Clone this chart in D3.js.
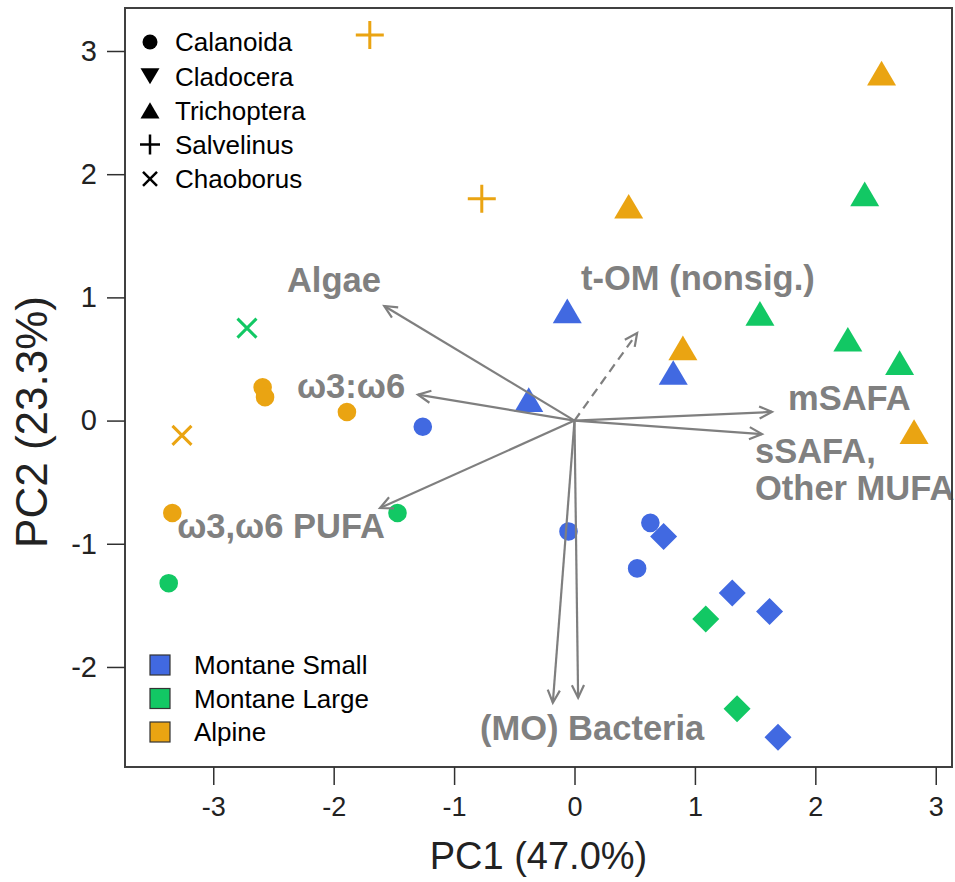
<!DOCTYPE html>
<html>
<head>
<meta charset="utf-8">
<script src="https://cdn.jsdelivr.net/npm/d3@7"></script>
<style>
  html, body { margin: 0; padding: 0; background: #fff; }
  svg { display: block; font-family: "Liberation Sans", Arial, sans-serif; }
</style>
</head>
<body>
<svg id="chart" width="955" height="882"></svg>
<script>
// ---- data -------------------------------------------------------------
const groups = ["Montane Small", "Montane Large", "Alpine"];
const groupColors = ["#4169e1", "#12c864", "#eaa412"];
const taxa = ["Calanoida", "Cladocera", "Trichoptera", "Salvelinus", "Chaoborus"];

// PCA scores: PC1, PC2, lake group, taxon
const pc1 = [
  // Alpine
  -1.70, -0.77, 2.55, 0.45, 0.90, 2.82, -2.59, -2.57, -1.89, -3.34, -3.26,
  // Montane Large
  -2.72, -1.47, -3.37, 2.41, 1.54, 2.27, 2.70, 1.09, 1.35,
  // Montane Small
  -0.06, 0.82, -0.38, -1.26, -0.05, 0.63, 0.74, 0.52, 1.31, 1.62, 1.69
];
const pc2 = [
  3.13, 1.80, 2.82, 1.74, 0.59, -0.09, 0.27, 0.19, 0.07, -0.75, -0.12,
  0.75, -0.75, -1.32, 1.84, 0.87, 0.66, 0.47, -1.61, -2.34,
  0.89, 0.39, 0.17, -0.05, -0.90, -0.83, -0.94, -1.20, -1.40, -1.55, -2.57
];
const pointGroup = [
  "Alpine", "Alpine", "Alpine", "Alpine", "Alpine", "Alpine", "Alpine", "Alpine", "Alpine", "Alpine", "Alpine",
  "Montane Large", "Montane Large", "Montane Large", "Montane Large", "Montane Large", "Montane Large", "Montane Large", "Montane Large", "Montane Large",
  "Montane Small", "Montane Small", "Montane Small", "Montane Small", "Montane Small", "Montane Small", "Montane Small", "Montane Small", "Montane Small", "Montane Small", "Montane Small"
];
const pointTaxon = [
  "Salvelinus", "Salvelinus", "Trichoptera", "Trichoptera", "Trichoptera", "Trichoptera", "Calanoida", "Calanoida", "Calanoida", "Calanoida", "Chaoborus",
  "Chaoborus", "Calanoida", "Calanoida", "Trichoptera", "Trichoptera", "Trichoptera", "Trichoptera", "Cladocera", "Cladocera",
  "Trichoptera", "Trichoptera", "Trichoptera", "Calanoida", "Calanoida", "Calanoida", "Cladocera", "Calanoida", "Cladocera", "Cladocera", "Cladocera"
];

// Fatty-acid / source loadings (arrow tips)
const loadingNames = ["Algae", "ω3:ω6", "ω3,ω6 PUFA", "t-OM (nonsig.)", "mSAFA", "sSAFA, Other MUFA", "Bacteria A", "Bacteria B"];
const loadX = [-1.58, -1.30, -1.615, 0.52, 1.64, 1.557, -0.18, 0.03];
const loadY = [0.93, 0.21, -0.71, 0.71, 0.07, -0.11, -2.29, -2.25];
const loadDashed = [false, false, false, true, false, false, false, false];

// Axis ticks
const xTicks = [-3, -2, -1, 0, 1, 2, 3];
const yTicks = [-2, -1, 0, 1, 2, 3];

// ---- layout -----------------------------------------------------------
const box = { left: 125, right: 952, top: 8, bottom: 767 };
const x = d3.scaleLinear().domain([-3.733, 3.135]).range([box.left, box.right]);
const y = d3.scaleLinear().domain([-2.812, 3.349]).range([box.bottom, box.top]);
const color = d3.scaleOrdinal().domain(groups).range(groupColors);

const svg = d3.select("#chart");

// symbol shapes
const plusSym = { draw(ctx, size) { const r = Math.sqrt(size) / 2; ctx.moveTo(-r, 0); ctx.lineTo(r, 0); ctx.moveTo(0, -r); ctx.lineTo(0, r); } };
const crossSym = { draw(ctx, size) { const r = Math.sqrt(size) / 2; ctx.moveTo(-r, -r); ctx.lineTo(r, r); ctx.moveTo(-r, r); ctx.lineTo(r, -r); } };
const diamondSym = { draw(ctx, size) { const r = Math.sqrt(size) / 2; ctx.moveTo(0, -r); ctx.lineTo(r, 0); ctx.lineTo(0, r); ctx.lineTo(-r, 0); ctx.closePath(); } };
const triUpSym = { draw(ctx, size) { const w = Math.sqrt(size); const h = w * 0.85; ctx.moveTo(0, -h / 2); ctx.lineTo(w / 2, h / 2); ctx.lineTo(-w / 2, h / 2); ctx.closePath(); } };
const triDownSym = { draw(ctx, size) { const w = Math.sqrt(size); const h = w * 0.85; ctx.moveTo(0, h / 2); ctx.lineTo(w / 2, -h / 2); ctx.lineTo(-w / 2, -h / 2); ctx.closePath(); } };

// plot-area shapes and sizes (size = squared width in px)
const plotShape = {
  Calanoida:   { type: d3.symbolCircle, size: Math.PI * 9.3 * 9.3, stroke: false },
  Cladocera:   { type: diamondSym, size: 27 * 27, stroke: false },
  Trichoptera: { type: triUpSym, size: 29 * 29, stroke: false },
  Salvelinus:  { type: plusSym, size: 28 * 28, stroke: true },
  Chaoborus:   { type: crossSym, size: 19 * 19, stroke: true }
};
const legendShape = {
  Calanoida:   { type: d3.symbolCircle, size: Math.PI * 7.5 * 7.5, stroke: false },
  Cladocera:   { type: triDownSym, size: 19 * 19, stroke: false },
  Trichoptera: { type: triUpSym, size: 19 * 19, stroke: false },
  Salvelinus:  { type: plusSym, size: 20 * 20, stroke: true },
  Chaoborus:   { type: crossSym, size: 14 * 14, stroke: true }
};

const points = pc1.map((v, i) => ({ x: v, y: pc2[i], group: pointGroup[i], taxon: pointTaxon[i] }));

// ---- points -----------------------------------------------------------
const gPts = svg.append("g");
gPts.selectAll("path")
  .data(points)
  .join("path")
  .attr("transform", d => `translate(${x(d.x)},${y(d.y)})`)
  .attr("d", d => d3.symbol().type(plotShape[d.taxon].type).size(plotShape[d.taxon].size)())
  .attr("fill", d => plotShape[d.taxon].stroke ? "none" : color(d.group))
  .attr("stroke", d => plotShape[d.taxon].stroke ? color(d.group) : "none")
  .attr("stroke-width", 3);

// ---- loading arrows ---------------------------------------------------
const arrowCol = "#7f7f7f";
const gArr = svg.append("g").attr("stroke", arrowCol).attr("fill", "none").attr("stroke-width", 2.2);
loadingNames.forEach((name, i) => {
  const x0 = x(0), y0 = y(0), x1 = x(loadX[i]), y1 = y(loadY[i]);
  const ang = Math.atan2(y1 - y0, x1 - x0);
  const L = 14, spread = Math.PI / 7;
  const p = d3.path();
  p.moveTo(x0, y0); p.lineTo(x1, y1);
  const head = d3.path();
  head.moveTo(x1 - L * Math.cos(ang - spread), y1 - L * Math.sin(ang - spread));
  head.lineTo(x1, y1);
  head.lineTo(x1 - L * Math.cos(ang + spread), y1 - L * Math.sin(ang + spread));
  gArr.append("path").attr("d", p.toString()).attr("stroke-dasharray", loadDashed[i] ? "9,6" : null);
  gArr.append("path").attr("d", head.toString());
});

// ---- loading labels ---------------------------------------------------
const labelSpecs = [
  { text: "Algae", at: [-2.388, 1.044] },
  { text: "t-OM (nonsig.)", at: [0.054, 1.06] },
  { text: "ω3:ω6", at: [-2.305, 0.183] },
  { text: "ω3,ω6 PUFA", at: [-3.30, -0.953] },
  { text: "mSAFA", at: [1.773, 0.086] },
  { text: "sSAFA,", at: [1.499, -0.344] },
  { text: "Other MUFA", at: [1.499, -0.644] },
  { text: "(MO) Bacteria", at: [-0.785, -2.594] }
];
svg.append("g")
  .selectAll("text")
  .data(labelSpecs)
  .join("text")
  .attr("x", d => x(d.at[0]))
  .attr("y", d => y(d.at[1]))
  .attr("fill", "#808080")
  .attr("font-weight", "bold")
  .attr("font-size", 34.5)
  .text(d => d.text);

// ---- frame and axes ---------------------------------------------------
svg.append("rect")
  .attr("x", box.left).attr("y", box.top)
  .attr("width", box.right - box.left).attr("height", box.bottom - box.top)
  .attr("fill", "none").attr("stroke", "#404040").attr("stroke-width", 2);

const xAxis = svg.append("g")
  .attr("transform", `translate(0,${box.bottom})`)
  .call(d3.axisBottom(x).tickValues(xTicks).tickSize(18).tickPadding(12).tickFormat(d3.format("d")));
const yAxis = svg.append("g")
  .attr("transform", `translate(${box.left},0)`)
  .call(d3.axisLeft(y).tickValues(yTicks).tickSize(18).tickPadding(10).tickFormat(d3.format("d")));
[xAxis, yAxis].forEach(a => {
  a.select(".domain").remove();
  a.selectAll(".tick line").attr("stroke", "#303030").attr("stroke-width", 1.5);
  a.selectAll(".tick text").attr("fill", "#222")
    .attr("font-family", "'Liberation Sans', Arial, sans-serif")
    .text(d => d < 0 ? "-" + Math.abs(d) : String(d));
});
xAxis.selectAll(".tick text").attr("font-size", 27);
yAxis.selectAll(".tick text").attr("font-size", 29);

svg.append("text")
  .attr("x", (box.left + box.right) / 2).attr("y", 869)
  .attr("text-anchor", "middle").attr("font-size", 38).attr("fill", "#222")
  .text("PC1 (47.0%)");
svg.append("text")
  .attr("transform", `translate(47,422) rotate(-90)`)
  .attr("text-anchor", "middle").attr("font-size", 44).attr("fill", "#222")
  .text("PC2 (23.3%)");

// ---- taxon legend -----------------------------------------------------
const gL1 = svg.append("g");
taxa.forEach((t, i) => {
  const cy = 42 + i * 34.2;
  const s = legendShape[t];
  gL1.append("path")
    .attr("transform", `translate(150,${cy})`)
    .attr("d", d3.symbol().type(s.type).size(s.size)())
    .attr("fill", s.stroke ? "none" : "#000")
    .attr("stroke", s.stroke ? "#000" : "none")
    .attr("stroke-width", 2.5);
  gL1.append("text").attr("x", 175).attr("y", cy).attr("dy", "0.36em")
    .attr("font-size", 26).attr("fill", "#000").text(t);
});

// ---- group legend -----------------------------------------------------
const gL2 = svg.append("g");
groups.forEach((g, i) => {
  const cy = 665 + i * 33.5;
  gL2.append("rect").attr("x", 150).attr("y", cy - 10).attr("width", 20).attr("height", 20)
    .attr("fill", color(g)).attr("stroke", "#333").attr("stroke-width", 1.2);
  gL2.append("text").attr("x", 194).attr("y", cy).attr("dy", "0.36em")
    .attr("font-size", 26).attr("fill", "#000").text(g);
});
</script>
</body>
</html>
